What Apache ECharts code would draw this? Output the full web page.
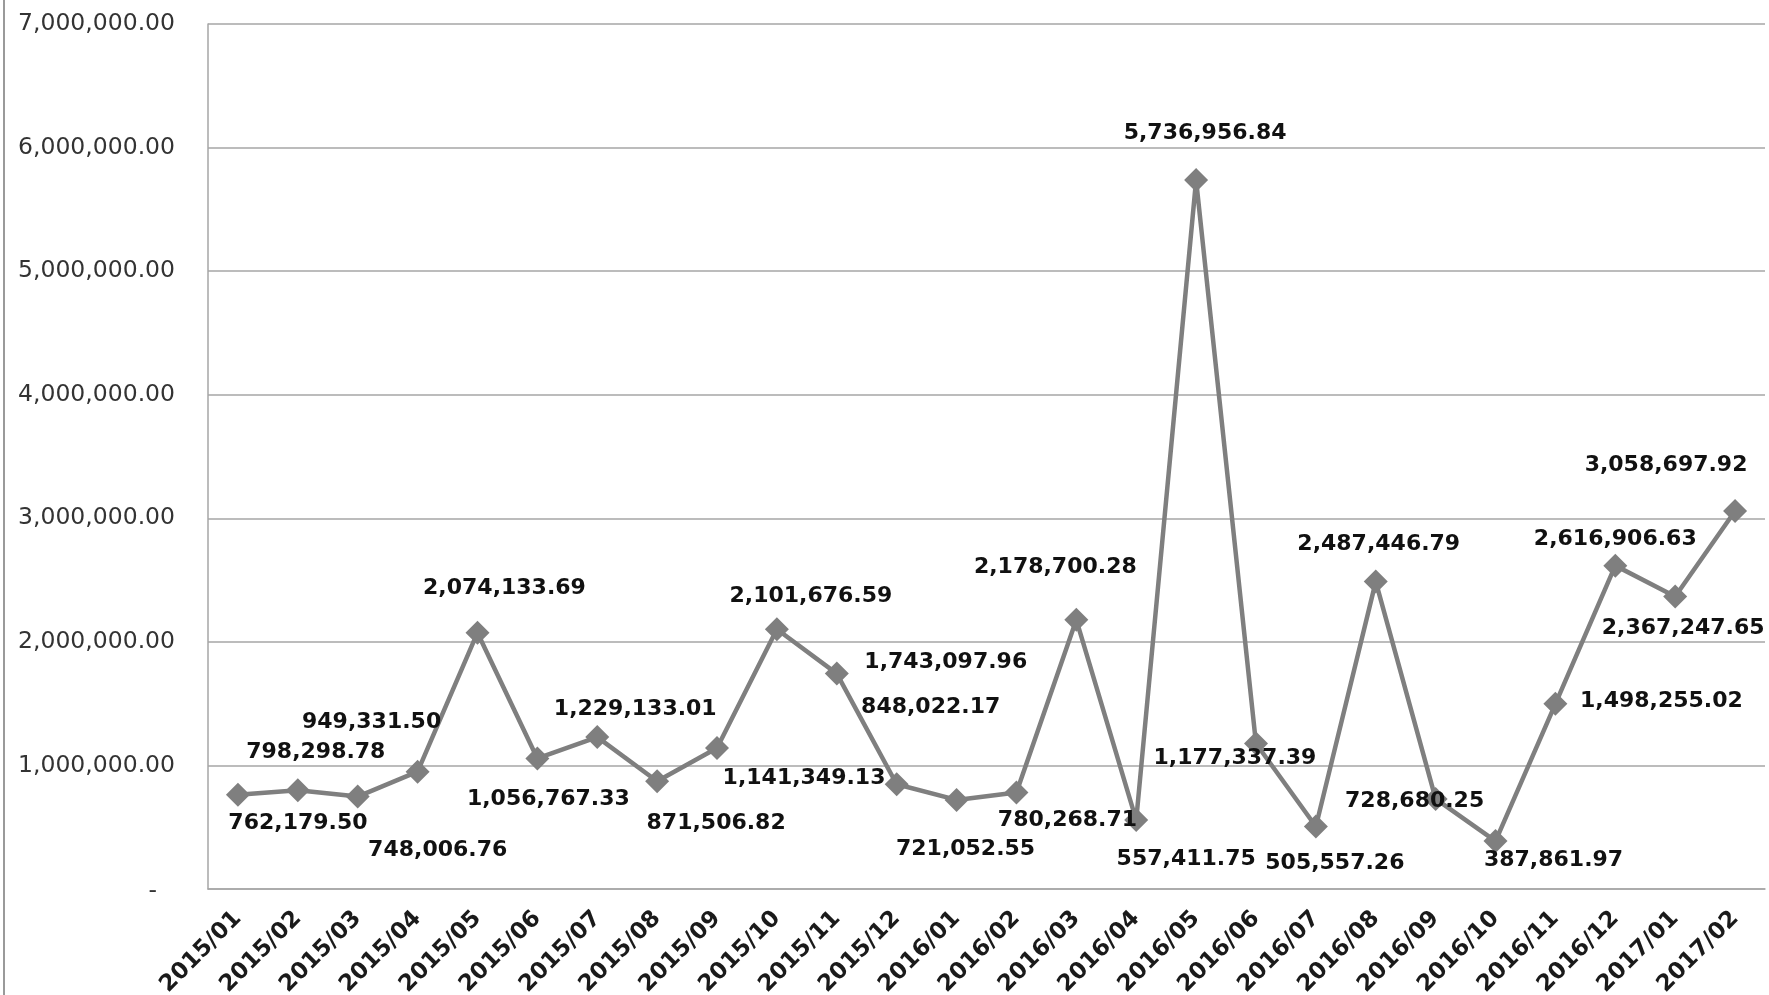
<!DOCTYPE html>
<html>
<head>
<meta charset="utf-8">
<script src="https://cdn.jsdelivr.net/npm/echarts@6/dist/echarts.min.js"></script>
<style>
html,body{margin:0;padding:0;background:#fff;}
#chart{width:1769px;height:995px;}
</style>
</head>
<body>
<div id="chart"></div>
<script>
// ---- data ----
const categories = ['2015/01','2015/02','2015/03','2015/04','2015/05','2015/06','2015/07','2015/08','2015/09','2015/10','2015/11','2015/12','2016/01','2016/02','2016/03','2016/04','2016/05','2016/06','2016/07','2016/08','2016/09','2016/10','2016/11','2016/12','2017/01','2017/02'];
const values = [762179.50, 798298.78, 748006.76, 949331.50, 2074133.69, 1056767.33, 1229133.01, 871506.82, 1141349.13, 2101676.59, 1743097.96, 848022.17, 721052.55, 780268.71, 2178700.28, 557411.75, 5736956.84, 1177337.39, 505557.26, 2487446.79, 728680.25, 387861.97, 1498255.02, 2616906.63, 2367247.65, 3058697.92];
const yMin = 0, yMax = 7000000, yInterval = 1000000;

// ---- layout: label offsets (px) relative to each marker, mimicking the reference placement ----
const labelOffsets = [[60,28],[18,-38],[80,54],[-46,-49],[27,-44],[11,41],[38,-28],[59,42],[87,30],[34,-33],[109,-11],[34,-77],[9,49],[51,28],[-21,-52],[50,39],[9,-47],[-21,15],[19,37],[3,-37],[-21,2],[58,19],[106,-3],[0,-26],[8,32],[-69,-46]];

const fmt = v => v.toLocaleString('en-US', {minimumFractionDigits: 2, maximumFractionDigits: 2});

const chart = echarts.init(document.getElementById('chart'), null, {renderer: 'canvas'});
chart.setOption({
  backgroundColor: '#ffffff',
  animation: false,
  graphic: [{
    type: 'line', shape: {x1: 4, y1: 0, x2: 4, y2: 995},
    style: {stroke: '#9a9a9a', lineWidth: 2}
  }],
  grid: {left: 208, right: 4, top: 24, bottom: 106, containLabel: false, outerBoundsMode: 'none'},
  xAxis: {
    type: 'category',
    data: categories,
    boundaryGap: true,
    axisLine: {show: true, lineStyle: {color: '#a6a6a6', width: 1.5}},
    axisTick: {show: false},
    axisLabel: {
      rotate: 45, interval: 0, margin: 26,
      fontFamily: 'DejaVu Sans', fontWeight: 'bold', fontSize: 23, color: '#1a1a1a'
    }
  },
  yAxis: {
    type: 'value',
    min: yMin, max: yMax, interval: yInterval,
    axisLine: {show: true, lineStyle: {color: '#a6a6a6', width: 1.5}},
    axisTick: {show: false},
    splitLine: {show: true, lineStyle: {color: '#a6a6a6', width: 1.5}},
    axisLabel: {
      margin: 33,
      fontFamily: 'DejaVu Sans', fontSize: 23.5, color: '#333333',
      formatter: v => v === 0 ? '{d|-}' : fmt(v),
      rich: {d: {fontFamily: 'DejaVu Sans', fontSize: 23.5, color: '#333333', padding: [4, 18, 0, 0]}}
    }
  },
  series: [{
    type: 'line',
    data: values.map((v, i) => ({
      value: v,
      label: {offset: labelOffsets[i]}
    })),
    symbol: 'diamond',
    symbolSize: 24,
    lineStyle: {color: '#7f7f7f', width: 4.5},
    itemStyle: {color: '#7f7f7f'},
    label: {
      show: true,
      position: 'inside',
      align: 'center',
      verticalAlign: 'middle',
      fontFamily: 'DejaVu Sans', fontWeight: 'bold', fontSize: 22, color: '#111111',
      formatter: p => fmt(p.value)
    }
  }]
});
</script>
</body>
</html>
